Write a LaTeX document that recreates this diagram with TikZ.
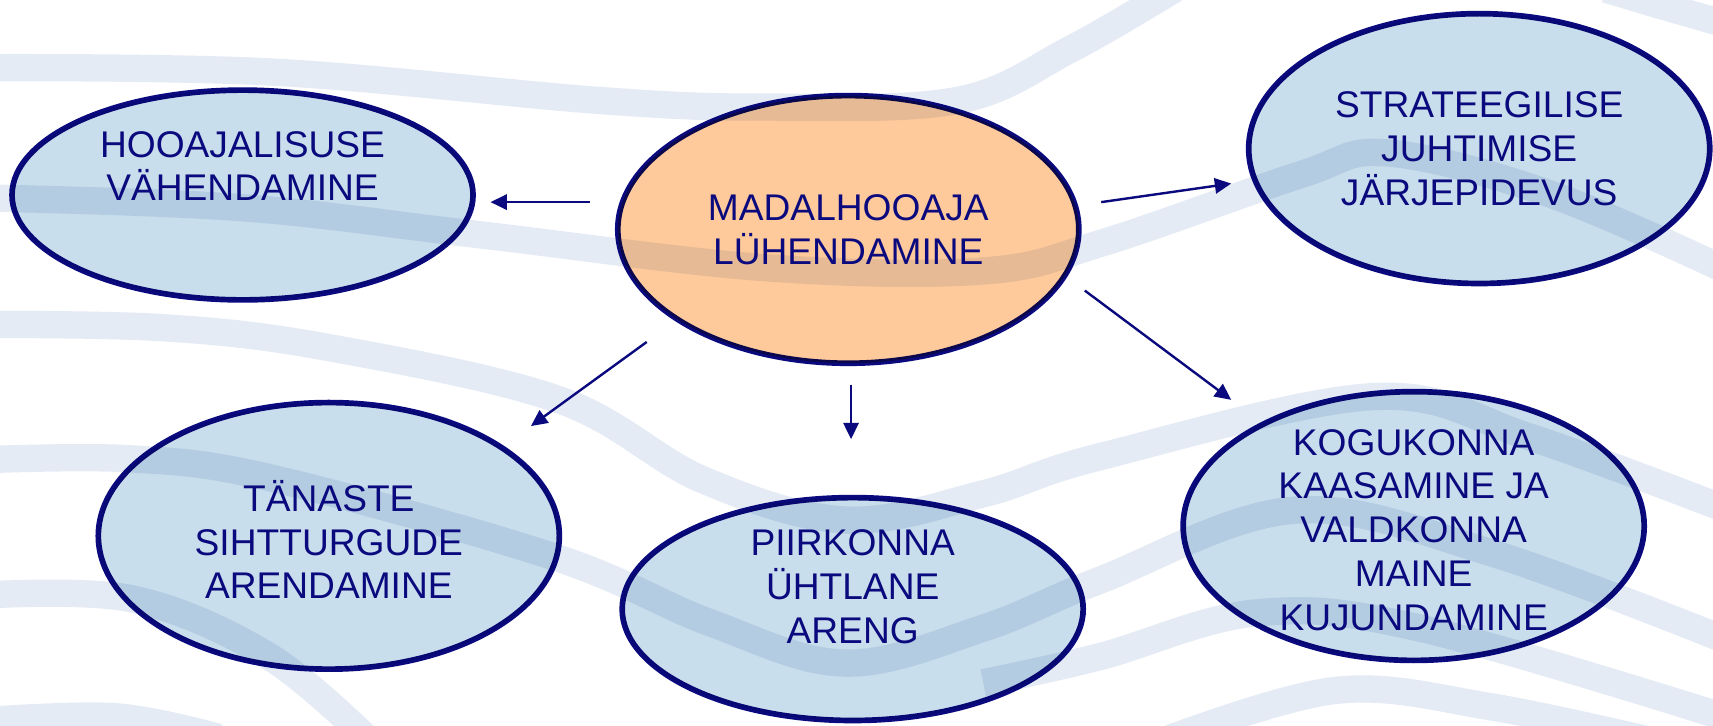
\documentclass[tikz,border=0pt]{standalone}
\usepackage{fontspec}
\setmainfont{Liberation Sans}
\usetikzlibrary{arrows.meta,shapes.geometric}
\definecolor{inkblue}{HTML}{0A0A7E}
\definecolor{bandcol}{HTML}{E5EBF5}
\definecolor{bubble}{HTML}{C9DEEC}
\definecolor{peach}{HTML}{FFCA9B}
\begin{document}
\begin{tikzpicture}[x=0.5pt,y=-0.5pt,
  band/.style={draw=bandcol,line width=12.5pt},
  bubblestyle/.style={ellipse,draw=inkblue,line width=2.6pt,fill=bubble,minimum width=211pt,inner sep=0pt},
  lbl/.style={text=inkblue,align=center,font=\fontsize{17}{20}\selectfont},
  conn/.style={draw=inkblue,line width=1.1pt,-{Triangle[length=7.5pt,width=7pt]}}]
\useasboundingbox (0,0) rectangle (1568,664);
\fill[white] (0,0) rectangle (1568,664);
% background waves
\draw[band] plot[smooth,tension=0.6] coordinates {(-20,62) (250,66) (549,92) (700,98) (876,92) (980,45) (1075,-10)};
\draw[band] plot[smooth,tension=0.6] coordinates {(1470,-10) (1520,5) (1590,25)};
\draw[band] plot[smooth,tension=0.6] coordinates {(-20,181) (220,190) (440,215) (700,245) (900,248) (1010,222) (1190,160) (1270,140) (1420,178) (1590,252)};
\draw[band] plot[smooth,tension=0.6] coordinates {(-20,297) (150,300) (300,318) (512,366) (643,439) (774,476) (900,452) (1007,418) (1258,363) (1400,400) (1590,470)};
\draw[band] plot[smooth,tension=0.6] coordinates {(-20,421) (120,420) (250,438) (508,510) (650,570) (774,607) (900,575) (1007,531) (1185,467) (1365,506) (1590,590)};
\draw[band] plot[smooth,tension=0.6] coordinates {(-20,545) (120,548) (245,600) (340,680)};
\draw[band] plot[smooth,tension=0.6] coordinates {(900,625) (1007,601) (1150,561) (1300,575) (1590,660)};
\draw[band] plot[smooth,tension=0.6] coordinates {(-20,660) (105,656) (200,675)};
\draw[band] plot[smooth,tension=0.6] coordinates {(1060,680) (1222,632) (1365,647) (1520,680)};
% bubbles
\begin{scope}[blend mode=multiply]
\node[bubblestyle,minimum height=96pt] (e1) at (222,178.5) {};
\node[bubblestyle,fill=peach,minimum height=122.5pt] (c) at (776.5,210) {};
\node[bubblestyle,minimum height=123.5pt] (e3) at (1354,136) {};
\node[bubblestyle,minimum height=122pt] (e4) at (301,490.5) {};
\node[bubblestyle,minimum height=102pt] (e5) at (780.5,557.5) {};
\node[bubblestyle,minimum height=123pt] (e6) at (1294,481.5) {};
\end{scope}
% labels
\node[lbl] (t1) at (222,152) {HOOAJALISUSE\\VÄHENDAMINE};
\node[lbl] (tc) at (776.5,210) {MADALHOOAJA\\LÜHENDAMINE};
\node[lbl] (t3) at (1354,136) {STRATEEGILISE\\JUHTIMISE\\JÄRJEPIDEVUS};
\node[lbl] (t4) at (301,494) {TÄNASTE\\SIHTTURGUDE\\ARENDAMINE};
\node[lbl] (t5) at (780.5,537) {PIIRKONNA\\ÜHTLANE\\ARENG};
\node[lbl] (t6) at (1294,485) {KOGUKONNA\\KAASAMINE JA\\VALDKONNA\\MAINE\\KUJUNDAMINE};
% connector ends
\coordinate (a1s) at (540,185); \coordinate (a1e) at (449,185);
\coordinate (a2s) at (1008,185); \coordinate (a2e) at (1127,168);
\coordinate (a3s) at (592,313); \coordinate (a3e) at (486,390);
\coordinate (a4s) at (779,352); \coordinate (a4e) at (779,402);
\coordinate (a5s) at (993,266); \coordinate (a5e) at (1127,366);
\draw[conn] (a1s) -- (a1e);
\draw[conn] (a2s) -- (a2e);
\draw[conn] (a3s) -- (a3e);
\draw[conn] (a4s) -- (a4e);
\draw[conn] (a5s) -- (a5e);
\end{tikzpicture}
\end{document}
